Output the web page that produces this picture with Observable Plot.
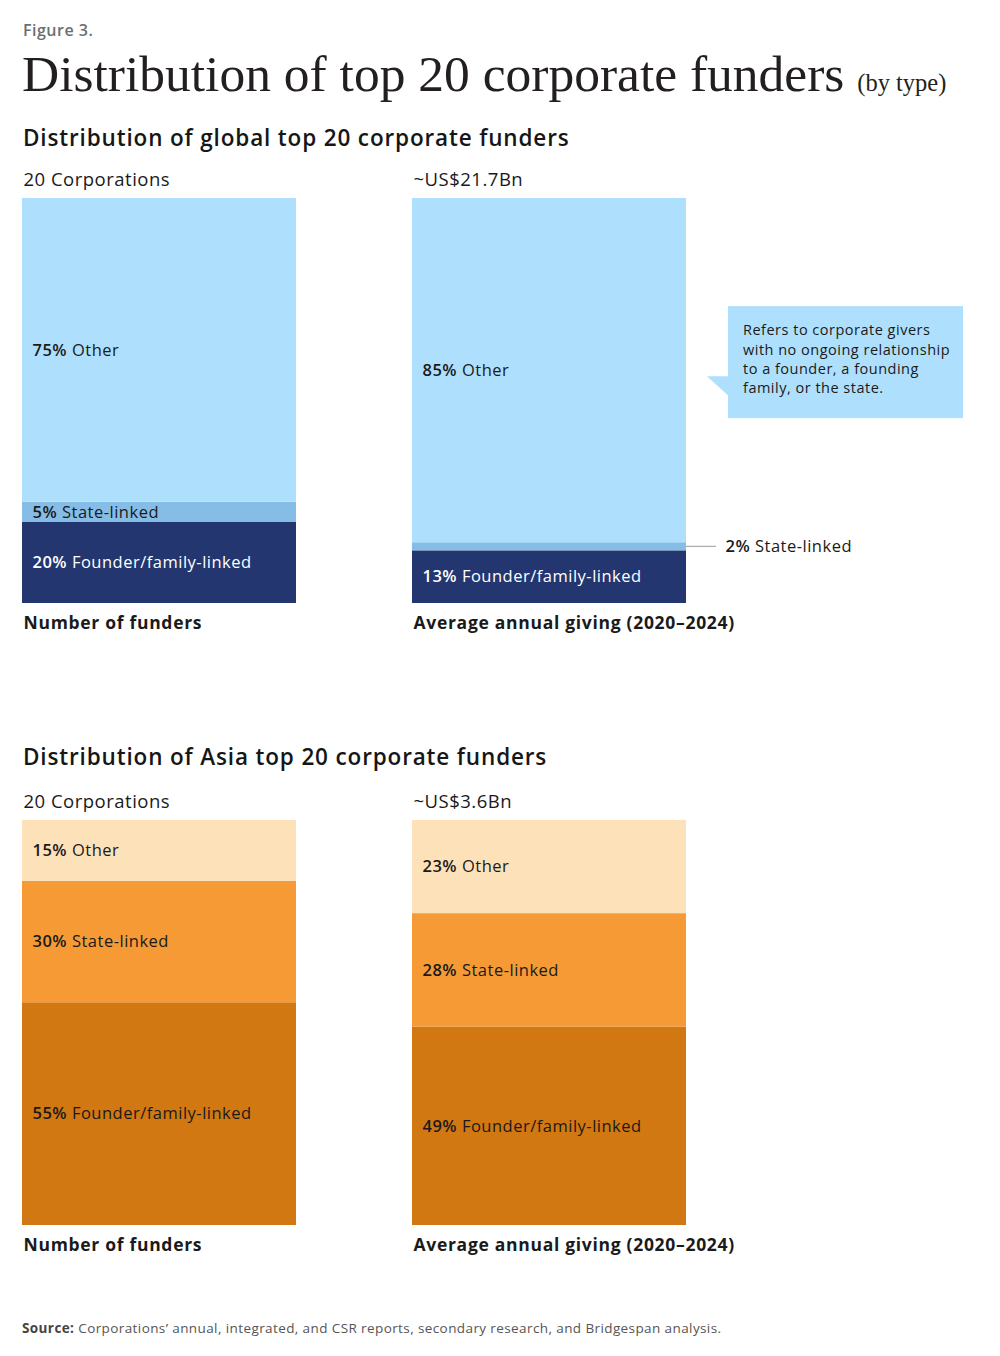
<!DOCTYPE html>
<html><head><meta charset="utf-8">
<script src="https://cdn.jsdelivr.net/npm/d3@7"></script>
<script src="https://cdn.jsdelivr.net/npm/@observablehq/plot@0.6"></script>
<style>
body{margin:0;background:#fff;}
#page{position:relative;width:1000px;height:1356px;font-family:"Open Sans",sans-serif;color:#1a1a1a;overflow:hidden;}
.abs{position:absolute;white-space:nowrap;}
.h2{font-size:22.5px;font-weight:600;line-height:30px;left:23px;letter-spacing:0.85px;color:#161616;}
.panel{position:absolute;left:0;}
#page svg text{letter-spacing:0.5px;}
#page svg g[font-weight="700"] text{letter-spacing:0.7px;}
</style></head><body><div id="page">
<div class="abs" style="left:23px;top:20px;font-size:16px;line-height:20px;color:#6d6e71;font-weight:600;letter-spacing:0.5px">Figure 3.</div>
<div class="abs" style="left:22px;top:45px;font-family:'Liberation Serif',serif;font-size:51.5px;line-height:58px;color:#231f20">Distribution of top 20 corporate funders <span style="font-size:24.5px">(by type)</span></div>
<div class="abs h2" style="top:123px">Distribution of global top 20 corporate funders</div>
<div class="panel" id="global" style="top:160px"></div>
<div class="abs h2" style="top:742px">Distribution of Asia top 20 corporate funders</div>
<div class="panel" id="asia" style="top:782px"></div>
<div class="abs" style="left:22px;top:1319px;font-size:13.5px;line-height:18px;color:#555;letter-spacing:0.4px"><b style="font-weight:700;color:#444">Source:</b> Corporations’ annual, integrated, and CSR reports, secondary research, and Bridgespan analysis.</div>
</div>
<script>
// ---- data ----
const types = ["Founder/family-linked", "State-linked", "Other"];
const measures = ["Number of funders", "Average annual giving (2020–2024)"];
const globalFunders = [20, 5, 75];
const globalGiving = [13, 2, 85];
const asiaFunders = [55, 30, 15];
const asiaGiving = [49, 28, 23];
const globalTotals = ["20 Corporations", "~US$21.7Bn"];
const asiaTotals = ["20 Corporations", "~US$3.6Bn"];
const globalColors = ["#243670", "#85BDE6", "#AEE0FD"];
const asiaColors = ["#D17812", "#F59A34", "#FDE2B9"];
const globalLabelColors = ["#ffffff", "#1a1a1a", "#1a1a1a"];
const asiaLabelColors = ["#1a1a1a", "#1a1a1a", "#1a1a1a"];
const calloutLines = ["Refers to corporate givers", "with no ongoing relationship", "to a founder, a founding", "family, or the state."];

// ---- layout ----
const W = 1000, H = 480;
const BAR_L = 22, BAR_R = 686, BW = 274;
const GAP = BAR_R - BAR_L - 2 * BW;
const PAD = GAP / (GAP + BW); // inner padding ratio
const Y0 = 443, Y1 = 38;
const FONT = "'Open Sans', sans-serif";

function panel(el, {funders, giving, totals, colors, labelColors, callout}) {
  const rows = [];
  measures.forEach((m, i) => {
    const vals = i === 0 ? funders : giving;
    types.forEach((t, j) => rows.push({measure: m, type: t, value: vals[j], fill: colors[j], ink: labelColors[j]}));
  });
  const tops = measures.map((m, i) => ({measure: m, total: totals[i]}));
  const label = d => `${d.value}% ${d.type}`;

  const marks = [
    Plot.barY(rows, Plot.stackY({x: "measure", y: "value", z: "type", fill: "fill"})),
    Plot.text(rows, Plot.stackY({x: "measure", y: "value", z: "type",
      text: d => d.value >= 4 ? label(d) : null, fill: "ink",
      textAnchor: "start", dx: -BW / 2 + 10, fontSize: 16.5})),
    Plot.text(rows, Plot.stackY({x: "measure", y: "value", z: "type",
      text: d => d.value < 4 ? label(d) : null, fill: "#1a1a1a",
      textAnchor: "start", dx: BW / 2 + 39, fontSize: 16.5})),
    Plot.text(tops, {x: "measure", y: 100, text: "total", textAnchor: "start", dx: -BW / 2 + 1, dy: -(Y1 - 20), fontSize: 18.5, fill: "#1a1a1a"}),
    Plot.text(tops, {x: "measure", y: 0, text: "measure", textAnchor: "start", dx: -BW / 2 + 1, dy: 463 - Y0, fontSize: 17.5, fontWeight: 700, fill: "#1a1a1a"}),
    (index, scales) => {
      const g = d3.create("svg:g");
      const x = scales.x, y = scales.y;
      const bw = typeof x.bandwidth === "function" ? x.bandwidth() : (x.bandwidth ?? BW);
      // leader lines for small outside labels
      measures.forEach(m => {
        let acc = 0;
        rows.filter(d => d.measure === m).forEach(d => {
          if (d.value < 4) {
            const ym = y(acc + d.value / 2);
            const xr = x(m) + bw;
            g.append("line").attr("x1", xr).attr("x2", xr + 30).attr("y1", ym).attr("y2", ym)
              .attr("stroke", "#9a9a9a").attr("stroke-width", 1);
          }
          acc += d.value;
        });
      });
      if (callout) {
        const m = measures[1];
        const sub = rows.filter(d => d.measure === m);
        const below = d3.sum(sub.slice(0, 2), d => d.value);
        const tip = y(below + sub[2].value / 2) + 6;
        const xr = x(m) + bw;
        const bx = xr + 42, top = tip - 70;
        g.append("path").attr("d", `M${xr + 21},${tip}L${bx + 1},${tip}L${bx + 1},${tip + 20}Z`).attr("fill", colors[2]);
        g.append("rect").attr("x", bx).attr("y", top).attr("width", 235).attr("height", 112).attr("fill", colors[2]);
        calloutLines.forEach((t, i) => {
          g.append("text").attr("x", bx + 15).attr("y", top + 24 + i * 19.3).attr("dy", "0.35em")
            .attr("text-anchor", "start").attr("font-size", 14.5).attr("fill", "#1a1a1a").text(t);
        });
      }
      return g.node();
    }
  ];

  const chart = Plot.plot({
    width: W, height: H,
    marginTop: 0, marginBottom: 0, marginLeft: 0, marginRight: 0,
    style: {fontFamily: FONT, background: "transparent", overflow: "visible"},
    x: {domain: measures, range: [BAR_L, BAR_R], paddingInner: PAD, paddingOuter: 0, align: 0, round: false, axis: null},
    y: {domain: [0, 100], range: [Y0, Y1], axis: null},
    color: {type: "identity"},
    marks
  });
  // bold the percentage part of each label
  d3.select(chart).selectAll("text").each(function() {
    const s = this.textContent;
    const mm = /^(\d+%) (.+)$/.exec(s);
    if (mm && this.children.length === 0) {
      const t = d3.select(this);
      t.text(null);
      t.append("tspan").attr("font-weight", 600).text(mm[1]);
      t.append("tspan").text(" " + mm[2]);
    }
  });
  el.appendChild(chart);
}

panel(document.getElementById("global"), {funders: globalFunders, giving: globalGiving, totals: globalTotals, colors: globalColors, labelColors: globalLabelColors, callout: true});
panel(document.getElementById("asia"), {funders: asiaFunders, giving: asiaGiving, totals: asiaTotals, colors: asiaColors, labelColors: asiaLabelColors, callout: false});
</script>
</body></html>
